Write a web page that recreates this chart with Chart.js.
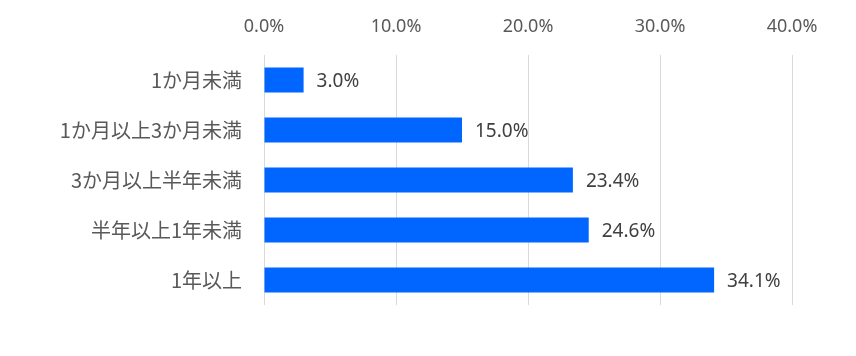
<!DOCTYPE html>
<html>
<head>
<meta charset="utf-8">
<script src="https://cdn.jsdelivr.net/npm/chart.js@4"></script>
<style>
html,body{margin:0;padding:0;background:#fff;}
canvas{display:block;}
</style>
</head>
<body>
<canvas id="c" width="856" height="356"></canvas>
<script>
const categories = ['1か月未満', '1か月以上3か月未満', '3か月以上半年未満', '半年以上1年未満', '1年以上'];
const values = [3.0, 15.0, 23.4, 24.6, 34.1];
const xTickMin = 0;
const xTickMax = 40;
const xTickStep = 10;

const valueLabels = {
  id: 'valueLabels',
  afterDatasetsDraw(chart) {
    const ctx = chart.ctx;
    const meta = chart.getDatasetMeta(0);
    ctx.save();
    ctx.font = '19px "Noto Sans", sans-serif';
    ctx.fillStyle = '#404040';
    ctx.textAlign = 'left';
    ctx.textBaseline = 'middle';
    meta.data.forEach((bar, i) => {
      ctx.fillText(values[i].toFixed(1) + '%', bar.x + 13, bar.y + 2);
    });
    ctx.restore();
  }
};

new Chart(document.getElementById('c'), {
  type: 'bar',
  data: {
    labels: categories,
    datasets: [{
      data: values,
      backgroundColor: '#0066FF',
      borderWidth: 0,
      barPercentage: 0.5,
      categoryPercentage: 1.0
    }]
  },
  options: {
    indexAxis: 'y',
    responsive: false,
    animation: false,
    layout: { padding: { left: 0, right: 64, top: 0, bottom: 51 } },
    plugins: { legend: { display: false }, tooltip: { enabled: false } },
    scales: {
      x: {
        position: 'top',
        min: xTickMin,
        max: xTickMax,
        ticks: {
          stepSize: xTickStep,
          color: '#595959',
          font: { family: '"Noto Sans", sans-serif', size: 18 },
          padding: 17,
          callback: v => v.toFixed(1) + '%'
        },
        grid: { color: '#d9d9d9', lineWidth: 1, drawTicks: false },
        border: { display: false },
        afterFit: s => { s.height = 55; }
      },
      y: {
        ticks: {
          color: '#595959',
          font: { family: '"Noto Sans CJK JP", sans-serif', size: 20 },
          padding: 22
        },
        grid: { display: false, drawTicks: false },
        border: { display: false },
        afterFit: s => { s.width = 264; }
      }
    }
  },
  plugins: [valueLabels]
});
</script>
</body>
</html>
